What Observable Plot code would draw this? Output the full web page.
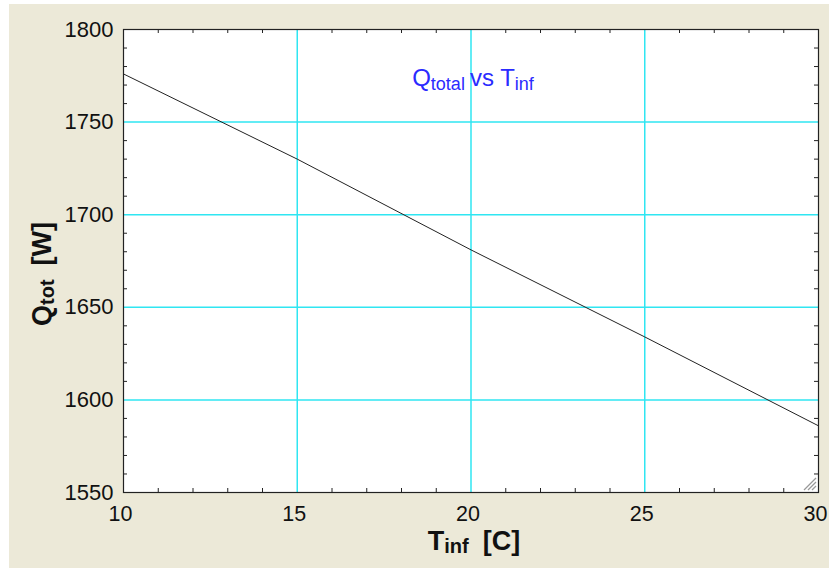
<!DOCTYPE html>
<html><head><meta charset="utf-8">
<script src="https://cdn.jsdelivr.net/npm/d3@7"></script>
<script src="https://cdn.jsdelivr.net/npm/@observablehq/plot@0.6"></script>
<style>
html,body{margin:0;padding:0;background:#fff;}
#chart svg{display:block;}
</style></head><body><div id="chart"></div>
<script>
// data
const tInf = [10, 15, 20, 25, 30];
const qTot = [1776, 1730, 1681, 1634, 1586];
const xTicks = [10, 15, 20, 25, 30];
const yTicks = [1550, 1600, 1650, 1700, 1750, 1800];
const xGrid = [15, 20, 25];
const yGrid = [1600, 1650, 1700, 1750];
const xMinor = [11,12,13,14,16,17,18,19,21,22,23,24,26,27,28,29];
const yMinor = [1560,1570,1580,1590,1610,1620,1630,1640,1660,1670,1680,1690,1710,1720,1730,1740,1760,1770,1780,1790];

const data = tInf.map((t, i) => ({t, q: qTot[i]}));

const W = 829, H = 568;
const M = {top: 29, right: 11, bottom: 76, left: 123};
const PW = W - M.left - M.right, PH = H - M.top - M.bottom;
const cyan = "#2fe6f2";
const font = "'Liberation Sans', Arial, sans-serif";
const tickLen = 4;

const plot = Plot.plot({
  width: W, height: H,
  marginTop: M.top, marginRight: M.right, marginBottom: M.bottom, marginLeft: M.left,
  style: {background: "#ece9d8", fontFamily: font, boxShadow: "inset 9px 4px 0 #ffffff"},
  x: {domain: [10, 30]},
  y: {domain: [1550, 1800]},
  marks: [
    Plot.frame({fill: "white", stroke: null}),
    Plot.ruleX(xGrid, {stroke: cyan, strokeWidth: 1.5}),
    Plot.ruleY(yGrid, {stroke: cyan, strokeWidth: 1.5}),
    Plot.line(data, {x: "t", y: "q", stroke: "#222", strokeWidth: 1}),
    Plot.tickX(xMinor, {x: d => d, insetTop: PH - tickLen, stroke: "#222"}),
    Plot.tickX(xMinor, {x: d => d, insetBottom: PH - tickLen, stroke: "#222"}),
    Plot.tickY(yMinor, {y: d => d, insetRight: PW - tickLen, stroke: "#222"}),
    Plot.tickY(yMinor, {y: d => d, insetLeft: PW - tickLen, stroke: "#222"}),
    Plot.frame({stroke: "#222", strokeWidth: 1.2}),
    Plot.axisX(xTicks, {anchor: "bottom", tickSize: 0, tickPadding: 13, dx: -3, fontSize: 21.5, fill: "#111", label: null, tickFormat: d => String(d)}),
    Plot.axisY(yTicks, {anchor: "left", tickSize: 0, tickPadding: 10, fontSize: 22, fill: "#111", label: null, tickFormat: d => String(d)})
  ]
});
document.getElementById("chart").append(plot);

const svg = d3.select(plot);
// title
const title = svg.append("text")
  .attr("x", 473).attr("y", 86).attr("text-anchor", "middle")
  .attr("fill", "#2b2bff").attr("font-family", font).attr("font-size", 24);
title.append("tspan").text("Q");
title.append("tspan").attr("font-size", 18).attr("dy", 4).text("total");
title.append("tspan").attr("dy", -4).attr("dx", 5).text("vs T");
title.append("tspan").attr("font-size", 18).attr("dy", 4).text("inf");

// x label
const xl = svg.append("text")
  .attr("x", 474).attr("y", 550).attr("text-anchor", "middle")
  .attr("fill", "#111").attr("font-family", font).attr("font-weight", "bold").attr("font-size", 27);
xl.append("tspan").text("T");
xl.append("tspan").attr("font-size", 20).attr("dy", 3).text("inf");
xl.append("tspan").attr("dy", -3).attr("dx", 14).text("[C]");

// y label
const yl = svg.append("text")
  .attr("transform", "translate(51,274) rotate(-90)").attr("text-anchor", "middle")
  .attr("fill", "#111").attr("font-family", font).attr("font-weight", "bold").attr("font-size", 27);
yl.append("tspan").text("Q");
yl.append("tspan").attr("font-size", 20).attr("dy", 3).text("tot");
yl.append("tspan").attr("dy", -3).attr("dx", 14).text("[W]");

// resize grip decoration
const g = svg.append("g").attr("stroke", "#999").attr("stroke-width", 1.2);
[4, 8, 12].forEach(o => {
  g.append("line").attr("x1", W - M.right - 2 - o).attr("y1", H - M.bottom - 2)
    .attr("x2", W - M.right - 2).attr("y2", H - M.bottom - 2 - o);
});
</script></body></html>
